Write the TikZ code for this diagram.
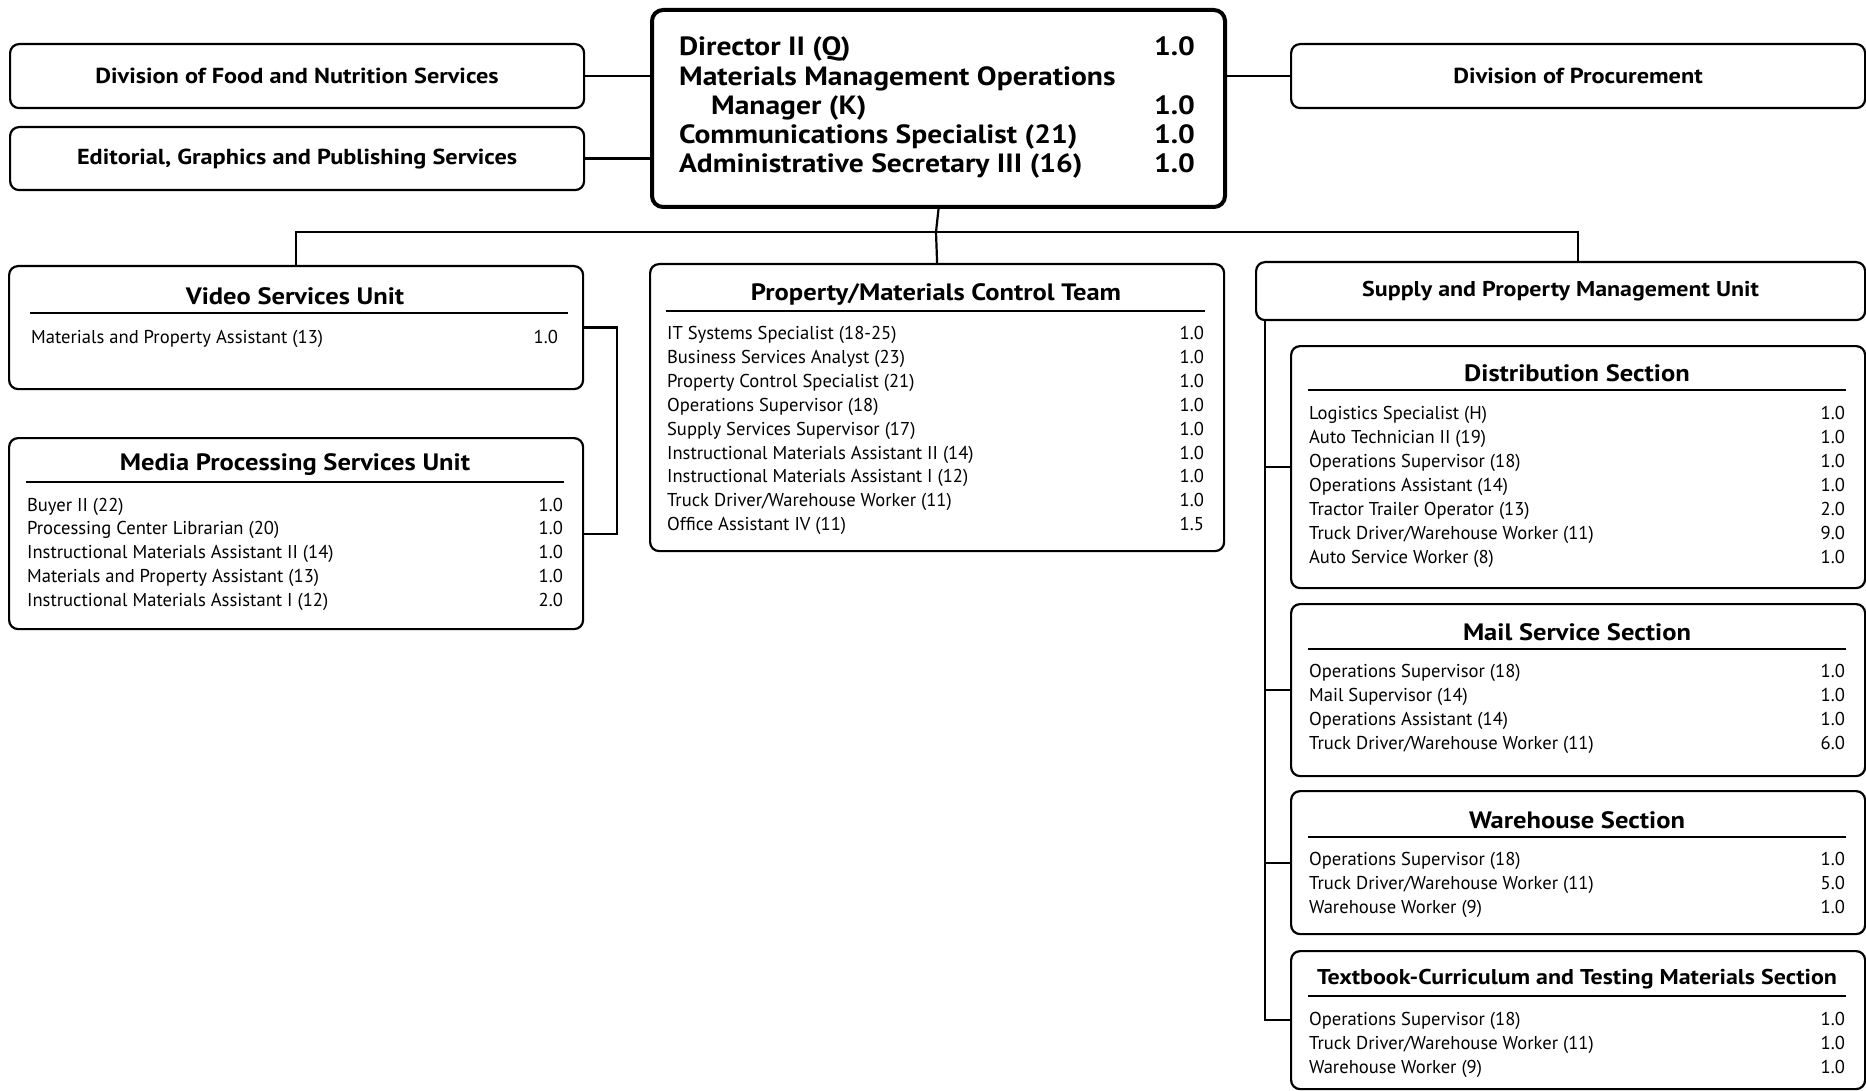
\documentclass[tikz,border=0pt]{standalone}
\usepackage{fontspec}
\setmainfont{PT Sans}
\newfontfamily\widesans{PT Sans}[FakeStretch=1.12]
\begin{document}
\begin{tikzpicture}[x=1pt, y=-1pt, line width=2.2pt,
      unit/.style={draw, rounded corners=9pt, inner sep=0pt, anchor=north west},
      head/.style={unit, rounded corners=11pt, line width=4pt},
      dirtxt/.style={font=\widesans\bfseries\fontsize{26.4}{30}\selectfont, inner sep=0pt},
      toptxt/.style={font=\widesans\bfseries\fontsize{21.7}{25}\selectfont, inner sep=0pt},
      title/.style={font=\widesans\bfseries\fontsize{23.7}{27}\selectfont, inner sep=0pt},
      subtitle/.style={font=\widesans\bfseries\fontsize{21.4}{25}\selectfont, inner sep=0pt},
      row/.style={font=\fontsize{18.6}{22}\selectfont, inner sep=0pt},
      rule/.style={line width=1.4pt}]
    \useasboundingbox (0,0) rectangle (1866,1091);
    % top row
    \node[unit, minimum width=574pt, minimum height=64pt] (food) at (9,43) {};
    \node[toptxt] (foodt) at (food.center) {Division of Food and Nutrition Services};
    \node[unit, minimum width=574pt, minimum height=63pt] (edit) at (9,126) {};
    \node[toptxt] (editt) at (edit.center) {Editorial, Graphics and Publishing Services};
    \node[unit, minimum width=574pt, minimum height=64pt] (proc) at (1290,43) {};
    \node[toptxt] (proct) at (proc.center) {Division of Procurement};
    \node[head, minimum width=573pt, minimum height=197pt] (dir) at (650,8) {};
    \node[dirtxt, anchor=base west] (d1) at (678,56) {Director II (Q)};
    \node[dirtxt, anchor=base east] (d1v) at (1196,56) {1.0};
    \node[dirtxt, anchor=base west] (d2) at (678,86) {Materials Management Operations};
    \node[dirtxt, anchor=base west] (d3) at (710,115) {Manager (K)};
    \node[dirtxt, anchor=base east] (d3v) at (1196,115) {1.0};
    \node[dirtxt, anchor=base west] (d4) at (678,144) {Communications Specialist (21)};
    \node[dirtxt, anchor=base east] (d4v) at (1196,144) {1.0};
    \node[dirtxt, anchor=base west] (d5) at (678,173) {Administrative Secretary III (16)};
    \node[dirtxt, anchor=base east] (d5v) at (1196,173) {1.0};
    \draw (food.east) -- (food.east -| dir.west);
    \draw (edit.east) -- (edit.east -| dir.west);
    \draw (dir.east |- proc.west) -- (proc.west);

    % video services
    \node[unit, minimum width=574pt, minimum height=123pt] (vsu) at (8,265) {};
    \node[title] (vsut) at (295,296) {Video Services Unit};
    \draw[rule] (30,313) -- (568,313);
    \node[row, anchor=base west] (vsu-0) at (30,343) {Materials and Property Assistant (13)};
    \node[row, anchor=base east] (vsuv-0) at (559,343) {1.0};

    % media processing
    \node[unit, minimum width=574pt, minimum height=191pt] (mpsu) at (8,437) {};
    \node[title] (mpsut) at (295,465) {Media Processing Services Unit};
    \draw[rule] (26,482) -- (564,482);
    \foreach \t/\v [count=\i from 0] in {{Buyer II (22)}/1.0, {Processing Center Librarian (20)}/1.0,
        {Instructional Materials Assistant II (14)}/1.0, {Materials and Property Assistant (13)}/1.0,
        {Instructional Materials Assistant I (12)}/2.0} {
      \node[row, anchor=base west] (mpsu-\i) at (26,511+23.8*\i) {\t};
      \node[row, anchor=base east] (mpsuv-\i) at (564,511+23.8*\i) {\v};
    }

    % property/materials control
    \node[unit, minimum width=574pt, minimum height=287pt] (pmct) at (649,263) {};
    \node[title] (pmctt) at (936,294) {Property/Materials Control Team};
    \draw[rule] (666,311) -- (1205,311);
    \foreach \t/\v [count=\i from 0] in {{IT Systems Specialist (18-25)}/1.0, {Business Services Analyst (23)}/1.0,
        {Property Control Specialist (21)}/1.0, {Operations Supervisor (18)}/1.0,
        {Supply Services Supervisor (17)}/1.0, {Instructional Materials Assistant II (14)}/1.0,
        {Instructional Materials Assistant I (12)}/1.0, {Truck Driver/Warehouse Worker (11)}/1.0,
        {Office Assistant IV (11)}/1.5} {
      \node[row, anchor=base west] (pmct-\i) at (666,340+23.8*\i) {\t};
      \node[row, anchor=base east] (pmctv-\i) at (1205,340+23.8*\i) {\v};
    }

    % supply and property management
    \node[unit, minimum width=609pt, minimum height=58pt] (spmu) at (1255,261) {};
    \node[subtitle] (spmut) at (spmu.center) {Supply and Property Management Unit};

    \node[unit, minimum width=574pt, minimum height=242pt] (dist) at (1290,345) {};
    \node[title] (distt) at (1577,373) {Distribution Section};
    \draw[rule] (1308,390) -- (1846,390);
    \foreach \t/\v [count=\i from 0] in {{Logistics Specialist (H)}/1.0, {Auto Technician II (19)}/1.0,
        {Operations Supervisor (18)}/1.0, {Operations Assistant (14)}/1.0,
        {Tractor Trailer Operator (13)}/2.0, {Truck Driver/Warehouse Worker (11)}/9.0,
        {Auto Service Worker (8)}/1.0} {
      \node[row, anchor=base west] (dist-\i) at (1308,419+24*\i) {\t};
      \node[row, anchor=base east] (distv-\i) at (1846,419+24*\i) {\v};
    }

    \node[unit, minimum width=574pt, minimum height=172pt] (mail) at (1290,603) {};
    \node[title] (mailt) at (1577,632) {Mail Service Section};
    \draw[rule] (1308,649) -- (1846,649);
    \foreach \t/\v [count=\i from 0] in {{Operations Supervisor (18)}/1.0, {Mail Supervisor (14)}/1.0,
        {Operations Assistant (14)}/1.0, {Truck Driver/Warehouse Worker (11)}/6.0} {
      \node[row, anchor=base west] (mail-\i) at (1308,677+24*\i) {\t};
      \node[row, anchor=base east] (mailv-\i) at (1846,677+24*\i) {\v};
    }

    \node[unit, minimum width=574pt, minimum height=143pt] (ware) at (1290,790) {};
    \node[title] (waret) at (1577,820) {Warehouse Section};
    \draw[rule] (1308,837) -- (1846,837);
    \foreach \t/\v [count=\i from 0] in {{Operations Supervisor (18)}/1.0,
        {Truck Driver/Warehouse Worker (11)}/5.0, {Warehouse Worker (9)}/1.0} {
      \node[row, anchor=base west] (ware-\i) at (1308,865+24*\i) {\t};
      \node[row, anchor=base east] (warev-\i) at (1846,865+24*\i) {\v};
    }

    \node[unit, minimum width=574pt, minimum height=138pt] (text) at (1290,950) {};
    \node[subtitle] (textt) at (1577,979) {Textbook-Curriculum and Testing Materials Section};
    \draw[rule] (1308,996) -- (1846,996);
    \foreach \t/\v [count=\i from 0] in {{Operations Supervisor (18)}/1.0,
        {Truck Driver/Warehouse Worker (11)}/1.0, {Warehouse Worker (9)}/1.0} {
      \node[row, anchor=base west] (text-\i) at (1308,1025+24*\i) {\t};
      \node[row, anchor=base east] (textv-\i) at (1846,1025+24*\i) {\v};
    }

    % connectors
    \coordinate (bus) at (936,232);
    \coordinate (spine) at (1265,0);
    \draw (dir.south) -- (bus);
    \draw (vsu.north) |- (bus);
    \draw (pmct.north) -- (bus);
    \draw (spmu.north -| dist.north) |- (bus);
    \draw (vsu.east) -- ++(33,0) |- (mpsu.east);
    \draw (spine |- spmu.south) |- (text.west);
    \foreach \s in {dist,mail,ware}
      \draw (spine |- \s.west) -- (\s.west);
  \end{tikzpicture}
\end{document}
